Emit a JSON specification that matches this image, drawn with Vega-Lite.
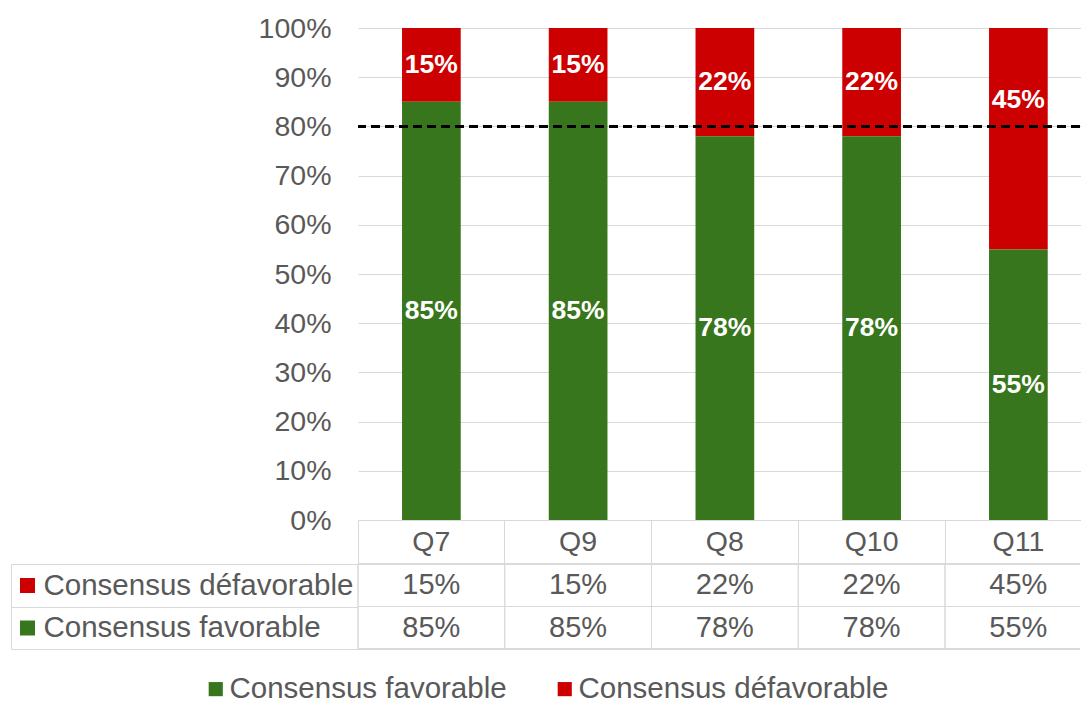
{
  "$schema": "https://vega.github.io/schema/vega-lite/v6.json",
  "background": "white",
  "padding": {"left": 10, "top": 14, "right": 0, "bottom": 1},
  "config": {
    "font": "Liberation Sans",
    "view": {"stroke": null},
    "axis": {"labelFont": "Liberation Sans", "labelColor": "#595959"},
    "legend": {"labelFont": "Liberation Sans", "labelColor": "#595959"}
  },
  "datasets": {
    "vals": [
      {"q": "Q7", "series": "Consensus défavorable", "value": 0.15},
      {"q": "Q7", "series": "Consensus favorable", "value": 0.85},
      {"q": "Q9", "series": "Consensus défavorable", "value": 0.15},
      {"q": "Q9", "series": "Consensus favorable", "value": 0.85},
      {"q": "Q8", "series": "Consensus défavorable", "value": 0.22},
      {"q": "Q8", "series": "Consensus favorable", "value": 0.78},
      {"q": "Q10", "series": "Consensus défavorable", "value": 0.22},
      {"q": "Q10", "series": "Consensus favorable", "value": 0.78},
      {"q": "Q11", "series": "Consensus défavorable", "value": 0.45},
      {"q": "Q11", "series": "Consensus favorable", "value": 0.55}
    ]
  },
  "spacing": -15,
  "resolve": {
    "scale": {"color": "independent", "fill": "independent", "x": "independent", "y": "independent"},
    "legend": {"color": "independent", "fill": "independent"}
  },
  "vconcat": [
    {
      "width": 722,
      "height": 492,
      "data": {"name": "vals"},
      "encoding": {
        "x": {
          "field": "q", "type": "nominal", "sort": ["Q7", "Q9", "Q8", "Q10", "Q11"],
          "scale": {"paddingInner": 0, "paddingOuter": 0, "range": [0, 733.75]},
          "axis": {
            "title": null, "domain": false, "ticks": true, "tickSize": 43, "tickColor": "#d9d9d9",
            "bandPosition": 0, "labelPadding": -21.5, "labelBaseline": "middle",
            "labelAngle": 0, "labelFontSize": 28.5, "grid": false
          }
        }
      },
      "layer": [
        {
          "mark": {"type": "bar", "width": {"band": 0.4}},
          "encoding": {
            "y": {
              "field": "value", "type": "quantitative", "stack": "zero",
              "scale": {"domain": [0, 1]},
              "axis": {
                "title": null, "format": ".0%", "values": [0, 0.1, 0.2, 0.3, 0.4, 0.5, 0.6, 0.7, 0.8, 0.9, 1],
                "grid": true, "gridColor": "#d9d9d9", "domain": false, "ticks": false,
                "labelPadding": 27, "labelFontSize": 28.5
              }
            },
            "color": {
              "field": "series", "type": "nominal",
              "scale": {"domain": ["Consensus favorable", "Consensus défavorable"], "range": ["#38761d", "#cc0000"]},
              "legend": null
            },
            "order": {"field": "series", "sort": "descending"}
          }
        },
        {
          "mark": {
            "type": "text", "fontWeight": "bold", "fontSize": 26.5, "color": "white", "baseline": "middle",
            "dy": {"expr": "datum.q === 'Q11' && datum.series === 'Consensus défavorable' ? -39 : 0"}
          },
          "encoding": {
            "y": {"field": "value", "type": "quantitative", "stack": "zero", "bandPosition": 0.5},
            "order": {"field": "series", "sort": "descending"},
            "text": {"field": "value", "type": "quantitative", "format": ".0%"}
          }
        },
        {
          "mark": {"type": "rule", "color": "black", "strokeWidth": 2, "strokeDash": [9, 5]},
          "encoding": {"x": null, "y": {"datum": 0.8, "type": "quantitative"}}
        }
      ]
    },
    {
      "width": 722,
      "height": 85,
      "data": {"name": "vals"},
      "encoding": {
        "x": {
          "field": "q", "type": "nominal", "sort": ["Q7", "Q9", "Q8", "Q10", "Q11"],
          "scale": {"paddingInner": 0, "paddingOuter": 0, "range": [0, 733.75]},
          "axis": null
        },
        "y": {
          "field": "series", "type": "nominal",
          "scale": {"domain": ["Consensus défavorable", "Consensus favorable"], "paddingInner": 0, "paddingOuter": 0},
          "axis": {
            "title": null, "orient": "left", "offset": 347,
            "domain": true, "domainColor": "#d9d9d9",
            "ticks": true, "tickSize": -347, "tickColor": "#d9d9d9", "tickBand": "extent",
            "labelAlign": "left", "labelBaseline": "middle", "labelPadding": 315, "labelFontSize": 29.5, "labelLimit": 400
          }
        }
      },
      "layer": [
        {
          "mark": {"type": "text", "fontSize": 29, "color": "#595959", "baseline": "middle"},
          "encoding": {"text": {"field": "value", "type": "quantitative", "format": ".0%"}}
        },
        {
          "mark": {"type": "rule", "color": "#d9d9d9"},
          "encoding": {"x": {"field": "q", "type": "nominal", "sort": ["Q7", "Q9", "Q8", "Q10", "Q11"], "bandPosition": 0}, "y": null}
        },
        {
          "mark": {"type": "rule", "color": "#d9d9d9"},
          "encoding": {"y": {"field": "series", "type": "nominal", "bandPosition": 0}, "x": null}
        },
        {
          "mark": {"type": "rule", "color": "#d9d9d9"},
          "encoding": {"y": {"field": "series", "type": "nominal", "bandPosition": 1}, "x": null}
        },
        {
          "mark": {"type": "square", "opacity": 0},
          "encoding": {
            "fill": {
              "field": "series", "type": "nominal",
              "scale": {"domain": ["Consensus défavorable", "Consensus favorable"], "range": ["#cc0000", "#38761d"]},
              "legend": {
                "orient": "none", "legendX": -338, "legendY": 14, "direction": "vertical", "title": null,
                "symbolType": "square", "symbolSize": 225, "symbolOpacity": 1, "symbolStrokeWidth": 0,
                "labelExpr": "''", "labelFontSize": 1, "rowPadding": 27.5
              }
            }
          }
        },
        {
          "mark": {"type": "square", "opacity": 0},
          "encoding": {
            "color": {
              "field": "series", "type": "nominal",
              "scale": {"domain": ["Consensus favorable", "Consensus défavorable"], "range": ["#38761d", "#cc0000"]},
              "legend": {
                "orient": "none", "legendX": -157, "legendY": 110, "direction": "horizontal", "title": null,
                "symbolType": "square", "symbolSize": 200, "symbolOpacity": 1, "symbolStrokeWidth": 0,
                "labelFontSize": 29.5, "labelLimit": 400, "labelOffset": -1, "columnPadding": 43
              }
            }
          }
        }
      ]
    }
  ]
}
